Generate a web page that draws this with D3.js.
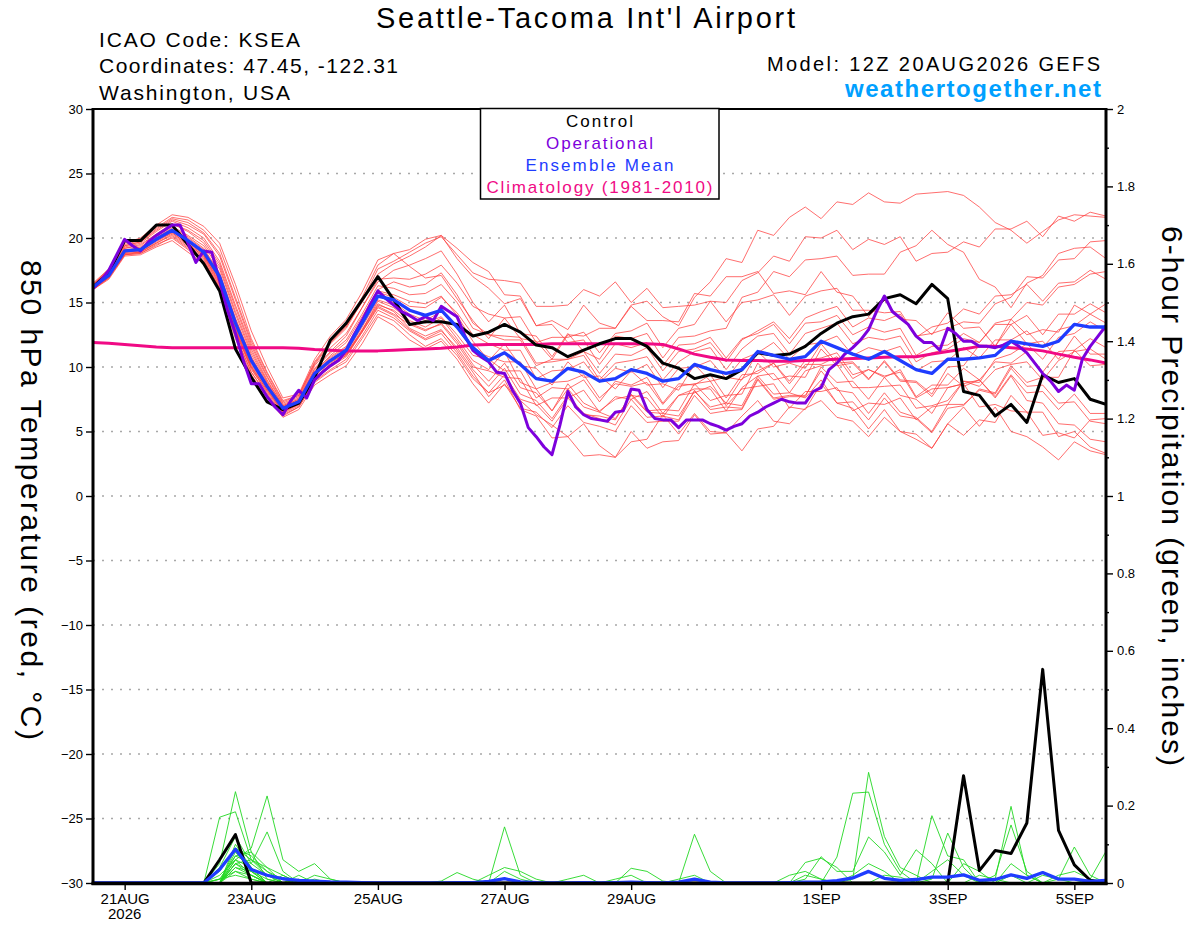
<!DOCTYPE html>
<html>
<head>
<meta charset="utf-8">
<title>KSEA GEFS plume</title>
<script src="https://cdn.jsdelivr.net/npm/d3@7"></script>
<style>
  html, body { margin: 0; padding: 0; background: #fff; }
  svg { display: block; font-family: "Liberation Sans", Arial, Helvetica, sans-serif; }
</style>
</head>
<body>
<svg id="plume-svg" width="1200" height="927"></svg>
<script>
// GEFS plume — Seattle-Tacoma Int'l Airport (KSEA), run 12Z 20AUG2026

// Time axis: 6-hourly members, 3-hourly operational run
const RUN_START = '2026-08-20T12:00:00Z';
const RUN_END = '2026-09-05T12:00:00Z';
const STEP_HOURS = 6;
const OP_STEP_HOURS = 3;

const dateTicks = ['2026-08-21', '2026-08-23', '2026-08-25', '2026-08-27', '2026-08-29', '2026-09-01', '2026-09-03', '2026-09-05'];
const dateLabels = ['21AUG', '23AUG', '25AUG', '27AUG', '29AUG', '1SEP', '3SEP', '5SEP'];
const yearLabel = '2026';

const tempTicks = [30, 25, 20, 15, 10, 5, 0, -5, -10, -15, -20, -25, -30];
const pcpTicks = [2, 1.8, 1.6, 1.4, 1.2, 1, 0.8, 0.6, 0.4, 0.2, 0];
const pcpMinorTicks = [1.9, 1.7, 1.5, 1.3, 1.1, 0.9, 0.7, 0.5, 0.3, 0.1];

// 850 hPa temperature (°C)
const controlTemp = [
  16.2, 17.3, 19.8, 19.8, 21.0,  21.0, 19.5, 18.0, 15.9, 11.4,  9.2, 7.3, 6.7, 7.2, 9.2,
  12.1, 13.4, 15.2, 17.0, 15.2,  13.3, 13.5, 13.5, 13.3, 12.4,  12.7, 13.3, 12.7, 11.7, 11.5,
  10.8, 11.3, 11.8, 12.2, 12.2,  11.6, 10.3, 9.9, 9.1, 9.4,  9.1, 9.8, 11.1, 10.9, 11.0,
  11.6, 12.6, 13.4, 13.9, 14.1,  15.3, 15.6, 14.9, 16.4, 15.3,  8.1, 7.8, 6.2, 7.1, 5.7,
  9.4, 8.8, 9.1, 7.5, 7.1
];

const ensMeanTemp = [
  16.2, 17.1, 19.0, 19.1, 19.9,  20.6, 19.8, 18.9, 17.0, 13.4,  10.5, 8.5, 6.8, 7.3, 9.5,
  10.5, 11.3, 13.4, 15.5, 15.2,  14.4, 14.0, 14.4, 13.1, 11.5,  10.5, 11.1, 10.2, 9.1, 8.9,
  9.9, 9.6, 8.9, 9.1, 9.8,  9.5, 8.9, 9.1, 10.2, 9.8,  9.5, 9.8, 11.2, 10.9, 10.6,
  10.8, 12.0, 11.5, 11.0, 10.6,  11.2, 10.5, 9.8, 9.5, 10.6,  10.6, 10.7, 10.9, 12.0, 11.8,
  11.6, 12.0, 13.3, 13.1, 13.1
];

const climTemp = [
  11.9, 11.85, 11.75, 11.65, 11.55,  11.5, 11.5, 11.5, 11.5, 11.5,  11.5, 11.5, 11.5, 11.45, 11.35,
  11.3, 11.25, 11.25, 11.25, 11.3,  11.35, 11.4, 11.45, 11.55, 11.7,  11.75, 11.75, 11.75, 11.75, 11.8,
  11.8, 11.8, 11.8, 11.8, 11.8,  11.8, 11.75, 11.4, 11.0, 10.75,  10.55, 10.5, 10.5, 10.45, 10.45,
  10.5, 10.55, 10.6, 10.65, 10.7,  10.75, 10.8, 10.8, 11.0, 11.2,  11.4, 11.6, 11.6, 11.5, 11.4,
  11.25, 11.0, 10.75, 10.55, 10.3
];

// Operational run, 3-hourly (129 values)
const operationalTemp = [
  16.1, 16.7, 17.5, 18.7, 19.9, 19.4, 19.0, 19.7, 20.2, 20.6,
  21.0, 21.0, 19.6, 18.1, 19.0, 18.9, 16.7, 14.4, 12.6, 10.5,
  8.7, 8.7, 7.7, 6.9, 6.3, 7.4, 8.2, 7.6, 9.0, 9.6,
  10.1, 10.5, 11.3, 12.5, 13.6, 14.8, 15.9, 15.3, 14.8, 14.3,
  14.0, 13.6, 13.9, 13.6, 14.7, 14.3, 13.9, 12.4, 11.3, 10.8,
  10.4, 9.6, 9.5, 8.2, 7.2, 5.3, 4.6, 3.8, 3.2, 5.5,
  8.1, 6.9, 6.3, 6.0, 5.9, 5.8, 6.5, 6.6, 8.3, 8.2,
  6.7, 6.0, 5.9, 5.9, 5.3, 5.9, 5.9, 5.9, 5.6, 5.4,
  5.1, 5.4, 5.6, 6.2, 6.5, 6.9, 7.2, 7.5, 7.3, 7.2,
  7.2, 8.1, 8.4, 9.8, 10.3, 11.0, 11.5, 12.1, 12.9, 14.3,
  15.5, 14.3, 13.8, 13.3, 12.4, 11.9, 11.9, 11.3, 13.0, 12.6,
  12.0, 12.0, 11.6, 11.6, 11.5, 11.7, 12.0, 11.6, 11.1, 10.3,
  9.5, 8.9, 8.1, 8.6, 8.2, 10.6, 11.6, 12.4, 13.2
];

// Ensemble members, 850 hPa temperature
const memberTemp = [
  [16.4, 17.6, 19.5, 19.8, 20.8,  21.6, 21.4, 20.6, 19.2, 15.9,  12.2, 9.6, 7.4, 7.8, 10.4,  12.0, 13.2, 15.0, 17.2, 18.0,  18.6, 19.3, 20.2, 18.4, 17.0,  16.1, 14.9, 15.3, 13.2, 13.6,  12.9, 14.8, 13.4, 13.0, 14.8,  15.1, 13.9, 13.2, 15.4, 16.6,  18.4, 18.1, 20.6, 20.2, 21.6,  22.4, 21.5, 22.8, 22.6, 23.5,  22.8, 22.7, 23.4, 23.5, 23.6,  23.3, 22.4, 21.2, 20.6, 19.6,  20.5, 21.4, 21.8, 21.7, 21.6],
  [16.0, 16.9, 18.7, 18.8, 19.4,  20.1, 19.2, 18.3, 16.1, 12.4,  9.6, 7.8, 6.2, 6.9, 8.8,  9.7, 10.4, 12.2, 14.1, 13.6,  12.5, 11.6, 12.2, 10.9, 9.1,  8.0, 8.6, 7.4, 6.3, 5.5,  4.6, 5.6, 3.9, 3.0, 4.2,  4.4, 6.3, 4.8, 6.4, 5.0,  4.9, 6.2, 7.4, 5.8, 5.6,  6.8, 7.4, 6.1, 5.8, 4.6,  6.1, 5.0, 4.4, 3.7, 5.6,  6.9, 5.4, 6.9, 5.0, 4.6,  3.8, 2.8, 4.2, 3.5, 3.2],
  [16.3, 17.2, 19.2, 19.4, 20.3,  21.1, 20.6, 19.8, 18.0, 14.6,  11.4, 9.0, 7.0, 7.5, 9.9,  11.2, 12.4, 14.6, 16.6, 17.5,  17.9, 18.4, 19.0, 17.2, 15.0,  13.5, 14.8, 12.6, 12.4, 10.8,  12.6, 11.2, 10.6, 12.4, 12.2,  12.6, 10.7, 12.3, 12.4, 12.8,  13.0, 15.4, 15.8, 17.4, 17.0,  18.3, 18.4, 18.6, 17.1, 17.2,  17.2, 18.9, 19.4, 20.6, 19.5,  18.9, 16.8, 16.2, 14.6, 16.5,  17.1, 18.8, 19.2, 19.3, 18.4],
  [16.1, 17.0, 18.9, 19.0, 19.8,  20.4, 19.5, 18.6, 16.6, 12.9,  10.0, 8.2, 6.6, 7.2, 9.3,  10.4, 11.0, 12.8, 15.1, 14.6,  13.6, 13.1, 13.8, 12.2, 10.5,  9.8, 11.2, 8.8, 8.3, 6.6,  8.7, 7.2, 6.6, 7.5, 7.8,  7.6, 6.1, 7.8, 8.3, 8.3,  6.6, 8.4, 9.3, 9.5, 8.0,  9.7, 10.1, 10.2, 8.4, 8.4,  8.5, 8.6, 6.8, 7.0, 7.4,  8.9, 8.5, 9.8, 10.2, 10.4,  9.0, 10.5, 11.2, 11.4, 10.6],
  [16.2, 17.3, 19.0, 19.3, 20.1,  20.9, 20.2, 19.4, 17.6, 14.1,  11.0, 8.8, 6.9, 7.4, 9.6,  10.9, 11.9, 13.9, 16.0, 16.6,  16.2, 16.4, 17.3, 15.6, 13.4,  12.5, 12.4, 12.3, 10.3, 10.4,  10.6, 10.9, 9.0, 10.3, 10.5,  10.8, 9.0, 10.4, 11.2, 11.5,  9.8, 11.4, 12.4, 12.6, 11.0,  12.6, 13.0, 13.4, 11.8, 12.3,  12.1, 12.4, 10.4, 11.1, 11.4,  12.2, 11.9, 13.4, 13.7, 15.0,  14.8, 16.2, 16.4, 17.2, 17.4],
  [16.2, 17.0, 18.8, 18.9, 19.6,  20.2, 19.3, 18.4, 16.3, 12.7,  9.9, 8.0, 6.4, 7.0, 9.0,  10.0, 10.8, 12.7, 14.6, 14.0,  12.9, 12.2, 12.8, 11.5, 9.8,  8.5, 9.9, 7.9, 7.4, 6.0,  7.8, 6.4, 6.0, 5.5, 7.5,  6.1, 6.2, 5.9, 8.2, 6.7,  6.9, 6.8, 9.1, 7.6, 7.8,  7.8, 9.7, 8.2, 8.0, 6.4,  8.0, 6.5, 6.1, 5.0, 7.1,  7.1, 8.2, 7.9, 9.9, 8.5,  8.6, 7.2, 7.3, 5.8, 5.6],
  [16.4, 17.5, 19.4, 19.7, 20.6,  21.4, 21.0, 20.3, 18.6, 15.2,  11.8, 9.3, 7.2, 7.7, 10.2,  11.8, 13.0, 15.1, 17.6, 18.2,  18.9, 19.6, 20.1, 18.7, 17.3,  16.8, 16.7, 16.5, 14.7, 14.7,  14.8, 16.0, 15.5, 16.6, 15.0,  16.1, 14.6, 14.7, 14.8, 15.1,  13.5, 15.0, 15.2, 15.6, 14.0,  15.5, 15.9, 16.1, 14.4, 14.4,  14.2, 14.3, 12.4, 12.6, 13.0,  13.5, 13.4, 14.9, 15.4, 17.0,  16.9, 18.3, 18.4, 19.7, 19.8],
  [16.0, 16.8, 18.6, 18.7, 19.3,  19.8, 18.9, 18.0, 15.9, 12.2,  9.4, 7.6, 6.1, 6.7, 8.6,  9.4, 10.1, 11.8, 13.9, 13.2,  12.1, 11.4, 12.0, 10.6, 8.7,  7.2, 8.7, 6.8, 6.5, 5.3,  7.0, 5.7, 5.4, 5.0, 7.0,  5.7, 5.8, 5.8, 7.8, 6.4,  6.6, 6.7, 9.0, 7.5, 7.7,  7.7, 10.0, 8.8, 8.9, 7.5,  9.2, 7.8, 7.5, 6.4, 8.4,  8.7, 9.0, 7.6, 9.3, 7.4,  7.2, 5.6, 5.5, 4.4, 4.2],
  [16.3, 17.2, 19.1, 19.2, 20.0,  20.7, 20.0, 19.1, 17.2, 13.7,  10.7, 8.6, 6.9, 7.4, 9.6,  10.7, 11.5, 13.6, 15.8, 15.4,  14.7, 14.6, 15.4, 14.2, 12.5,  11.8, 11.3, 11.3, 9.1, 9.7,  9.8, 10.4, 8.8, 9.9, 9.6,  10.2, 8.4, 9.9, 10.0, 10.5,  9.1, 10.6, 11.1, 11.9, 10.6,  11.7, 11.9, 12.4, 10.9, 11.5,  11.2, 11.6, 9.7, 10.4, 10.5,  11.5, 10.7, 12.1, 12.1, 12.8,  11.5, 12.9, 13.2, 14.1, 13.4],
  [16.1, 17.0, 18.9, 19.0, 19.8,  20.5, 19.6, 18.7, 16.8, 13.1,  10.2, 8.4, 6.7, 7.2, 9.4,  10.3, 11.1, 13.1, 15.2, 14.8,  13.9, 13.4, 13.9, 12.5, 10.9,  10.6, 9.7, 9.7, 7.6, 8.4,  8.3, 9.0, 7.3, 8.9, 8.6,  9.2, 7.2, 8.7, 8.6, 9.4,  7.6, 9.4, 9.5, 10.3, 8.7,  10.2, 10.2, 10.8, 9.1, 9.8,  9.2, 9.8, 7.7, 8.6, 8.6,  9.9, 9.0, 10.4, 10.3, 11.2,  9.6, 11.2, 11.3, 12.2, 11.5],
  [16.2, 17.1, 18.9, 19.1, 19.9,  20.6, 19.7, 18.7, 16.7, 13.0,  10.1, 8.3, 6.6, 7.1, 9.2,  10.2, 11.0, 12.9, 14.9, 14.3,  13.0, 12.4, 12.9, 11.3, 9.6,  7.7, 9.0, 6.7, 6.2, 4.5,  4.6, 3.1, 3.2, 3.0, 5.0,  3.7, 4.2, 4.3, 6.3, 4.8,  4.9, 3.5, 5.2, 5.4, 6.9,  6.7, 8.7, 7.2, 7.3, 5.9,  7.6, 6.2, 6.0, 4.9, 6.8,  7.0, 8.3, 8.0, 10.1, 8.8,  9.2, 9.2, 11.3, 10.1, 10.2],
  [16.5, 17.6, 19.6, 20.0, 21.0,  21.8, 21.6, 20.9, 19.6, 16.4,  12.8, 10.0, 7.6, 7.9, 10.6,  12.4, 13.7, 15.8, 18.3, 18.8,  19.1, 19.9, 20.2, 19.2, 18.1,  17.4, 15.6, 15.5, 13.2, 13.3,  11.9, 12.1, 10.2, 11.8, 11.5,  11.9, 10.1, 11.7, 11.8, 12.3,  10.7, 12.2, 12.6, 13.3, 11.8,  13.4, 13.5, 14.0, 12.5, 13.1,  12.7, 13.0, 10.9, 11.6, 11.7,  12.6, 11.9, 13.3, 13.3, 14.0,  12.5, 14.1, 14.1, 14.9, 14.2],
  [16.2, 17.2, 19.0, 19.2, 20.0,  20.8, 20.1, 19.2, 17.3, 13.8,  10.8, 8.7, 6.9, 7.4, 9.7,  10.8, 11.6, 13.7, 15.9, 15.6,  15.1, 14.9, 15.5, 14.0, 12.0,  10.5, 11.8, 10.1, 9.9, 8.6,  10.4, 9.2, 9.3, 8.3, 9.7,  8.6, 8.7, 8.2, 10.2, 8.9,  9.2, 9.0, 11.2, 10.0, 10.3,  9.9, 11.8, 10.3, 10.4, 9.1,  10.4, 8.9, 8.8, 7.7, 9.5,  8.5, 9.0, 7.7, 9.4, 8.0,  8.1, 6.7, 7.9, 6.4, 6.4],
  [16.3, 17.4, 19.3, 19.6, 20.5,  21.3, 20.8, 20.0, 18.2, 14.8,  11.6, 9.2, 7.1, 7.6, 10.1,  11.5, 12.6, 14.6, 16.8, 16.9,  16.8, 17.2, 17.9, 16.5, 14.7,  14.1, 13.8, 13.9, 11.9, 12.3,  12.3, 12.7, 11.1, 12.6, 12.8,  13.4, 11.5, 13.0, 13.3, 15.1,  15.0, 16.7, 17.3, 18.6, 18.2,  20.1, 20.0, 20.6, 19.1, 19.9,  19.5, 20.1, 18.2, 18.8, 18.9,  19.7, 19.3, 20.7, 20.7, 21.3,  20.1, 21.7, 21.3, 22.0, 21.7],
  [16.1, 16.9, 18.7, 18.9, 19.6,  20.3, 19.4, 18.5, 16.4, 12.8,  9.8, 8.1, 6.5, 7.1, 9.1,  10.1, 10.9, 12.7, 14.7, 14.1,  13.3, 12.8, 13.4, 12.0, 10.2,  8.9, 10.3, 8.4, 8.0, 6.6,  8.3, 6.9, 6.5, 6.0, 7.8,  6.5, 6.4, 6.2, 8.1, 6.9,  7.2, 7.0, 9.3, 7.9, 8.0,  7.6, 9.0, 7.2, 6.8, 5.2,  6.7, 5.0, 4.8, 3.7, 5.6,  4.7, 5.9, 5.7, 7.8, 6.5,  6.5, 4.6, 5.0, 3.8, 3.3],
  [16.3, 17.3, 19.2, 19.5, 20.3,  21.1, 20.5, 19.6, 17.8, 14.3,  11.2, 8.9, 7.0, 7.5, 9.8,  11.1, 12.1, 14.1, 16.3, 16.1,  15.6, 15.7, 16.4, 15.0, 13.0,  12.5, 12.1, 12.1, 10.1, 10.6,  10.6, 11.2, 9.5, 11.0, 10.9,  11.5, 9.7, 11.2, 11.4, 11.9,  10.4, 12.1, 12.8, 13.5, 12.2,  13.8, 14.3, 14.7, 13.1, 13.8,  13.6, 14.1, 12.3, 13.1, 13.4,  14.5, 14.1, 15.5, 15.6, 16.4,  15.1, 16.5, 16.6, 17.5, 16.8],
  [16.0, 16.9, 18.7, 18.8, 19.5,  20.0, 19.1, 18.2, 16.2, 12.5,  9.6, 7.9, 6.3, 6.9, 8.9,  9.8, 10.6, 12.4, 14.4, 13.8,  12.8, 12.1, 12.6, 11.1, 9.3,  8.0, 9.4, 7.5, 7.1, 5.8,  7.6, 6.3, 6.2, 5.9, 7.9,  6.6, 6.7, 6.6, 8.7, 7.4,  7.8, 7.9, 10.3, 9.0, 9.3,  9.2, 11.4, 10.1, 10.3, 9.0,  10.5, 9.0, 8.9, 7.9, 10.0,  10.1, 11.7, 11.6, 13.7, 12.5,  12.9, 12.7, 14.8, 14.1, 14.9],
  [16.2, 17.1, 19.0, 19.1, 19.9,  20.6, 19.8, 18.9, 17.0, 13.5,  10.5, 8.5, 6.8, 7.3, 9.5,  10.6, 11.3, 13.3, 15.5, 15.0,  14.1, 13.6, 14.3, 13.0, 11.3,  10.8, 10.4, 10.4, 8.3, 8.8,  8.9, 9.4, 7.6, 8.7, 8.5,  8.8, 7.1, 8.5, 8.7, 8.9,  7.0, 8.3, 8.5, 8.7, 6.8,  8.1, 8.1, 8.4, 6.6, 7.2,  7.1, 7.6, 5.9, 6.9, 7.1,  8.9, 8.8, 10.6, 11.0, 11.8,  10.6, 12.3, 12.6, 13.5, 12.8],
  [16.4, 17.5, 19.4, 19.7, 20.7,  21.5, 21.2, 20.4, 18.8, 15.4,  12.0, 9.5, 7.3, 7.8, 10.3,  11.9, 13.1, 15.4, 17.9, 18.8,  17.8, 16.9, 17.1, 15.3, 13.6,  12.2, 13.8, 12.2, 12.0, 10.6,  12.5, 12.4, 13.0, 13.0, 14.7,  13.6, 13.6, 13.5, 15.7, 15.5,  17.0, 17.0, 17.4, 15.7, 15.9,  15.6, 17.4, 15.8, 15.5, 13.9,  15.2, 13.7, 13.6, 12.5, 14.2,  13.0, 13.1, 11.6, 13.3, 11.8,  12.0, 10.6, 12.4, 11.0, 11.0],
  [16.1, 17.0, 18.8, 18.9, 19.7,  20.4, 19.5, 18.6, 16.5, 12.9,  10.0, 8.2, 6.5, 7.1, 9.2,  10.2, 10.9, 12.8, 14.8, 14.4,  13.4, 12.9, 13.3, 11.8, 10.0,  9.7, 9.2, 9.1, 7.0, 7.6,  7.6, 8.2, 6.5, 7.7, 7.5,  8.1, 6.4, 7.8, 8.0, 8.5,  7.2, 9.1, 9.7, 10.3, 8.9,  10.5, 10.7, 11.1, 9.4, 9.8,  9.3, 9.6, 7.6, 8.3, 8.4,  8.7, 6.9, 7.1, 6.6, 6.5,  4.7, 4.9, 4.5, 5.9, 6.0]
];

// 6-hour precipitation (inches)
const controlPcp = [
  0, 0, 0, 0, 0,  0, 0, 0, 0.06, 0.125,  0, 0, 0, 0, 0,  0, 0, 0, 0, 0,
  0, 0, 0, 0, 0,  0, 0, 0, 0, 0,  0, 0, 0, 0, 0,  0, 0, 0, 0, 0,
  0, 0, 0, 0, 0,  0, 0, 0, 0, 0,  0, 0, 0, 0, 0,  0.277, 0.032, 0.084, 0.076, 0.155,
  0.552, 0.136, 0.047, 0.007, 0
];

const ensMeanPcp = [
  0, 0, 0, 0, 0,  0, 0, 0, 0.035, 0.087,  0.035, 0.02, 0.011, 0.007, 0.005,  0.003, 0.002, 0.001, 0, 0,
  0, 0, 0, 0.001, 0.001,  0.004, 0.011, 0.003, 0.001, 0,  0, 0.001, 0, 0.001, 0.002,  0.001, 0, 0.002, 0.01, 0.002,
  0, 0, 0, 0, 0.001,  0.002, 0.003, 0.006, 0.013, 0.03,  0.012, 0.007, 0.009, 0.015, 0.015,  0.021, 0.007, 0.009, 0.021, 0.012,
  0.027, 0.01, 0.01, 0.004, 0.007
];

const memberPcp = [
  [0, 0, 0, 0, 0,  0, 0, 0, 0.17, 0.184,  0.06, 0.02, 0, 0, 0.01,  0, 0, 0, 0, 0,  0, 0, 0, 0, 0,  0, 0, 0, 0, 0,  0, 0, 0, 0, 0,  0, 0, 0, 0, 0,  0, 0, 0, 0, 0,  0, 0, 0.067, 0.232, 0.235,  0.1, 0.03, 0, 0, 0,  0, 0, 0, 0.02, 0,  0, 0, 0, 0, 0],
  [0, 0, 0, 0, 0,  0, 0, 0, 0.05, 0.236,  0.08, 0.01, 0, 0, 0,  0, 0, 0, 0, 0,  0, 0, 0, 0, 0,  0, 0.145, 0.02, 0, 0,  0, 0, 0, 0, 0,  0, 0, 0, 0, 0,  0, 0, 0, 0, 0,  0, 0, 0, 0, 0,  0, 0, 0, 0, 0,  0, 0, 0, 0, 0,  0, 0, 0, 0, 0],
  [0, 0, 0, 0, 0,  0, 0, 0, 0, 0.06,  0.09, 0.225, 0.06, 0.03, 0.05,  0.01, 0, 0, 0, 0,  0, 0, 0, 0, 0,  0, 0, 0, 0, 0,  0, 0, 0, 0, 0,  0, 0, 0, 0, 0,  0, 0, 0, 0, 0,  0, 0, 0, 0, 0,  0, 0, 0, 0, 0,  0, 0, 0, 0, 0,  0, 0, 0, 0, 0],
  [0, 0, 0, 0, 0,  0, 0, 0, 0.04, 0.12,  0.05, 0.132, 0.03, 0, 0,  0, 0, 0, 0, 0,  0, 0, 0, 0, 0,  0, 0, 0, 0, 0,  0, 0, 0, 0, 0,  0, 0, 0, 0.126, 0.03,  0, 0, 0, 0, 0,  0, 0, 0, 0, 0,  0, 0, 0, 0.174, 0.07,  0.06, 0, 0, 0, 0,  0, 0, 0, 0, 0],
  [0, 0, 0, 0, 0,  0, 0, 0, 0, 0.1,  0.04, 0, 0.02, 0, 0,  0, 0, 0, 0, 0,  0, 0, 0, 0, 0,  0, 0, 0, 0, 0,  0, 0, 0, 0, 0,  0, 0, 0, 0, 0,  0, 0, 0, 0, 0,  0, 0, 0, 0.01, 0.286,  0.12, 0.04, 0.02, 0, 0,  0, 0, 0.01, 0.198, 0.02,  0, 0, 0, 0, 0],
  [0, 0, 0, 0, 0,  0, 0, 0, 0.03, 0.09,  0.07, 0.03, 0, 0.02, 0,  0, 0, 0, 0, 0,  0, 0, 0, 0, 0,  0, 0, 0, 0, 0,  0, 0, 0, 0, 0.038,  0.03, 0.005, 0, 0, 0,  0, 0, 0, 0, 0,  0.053, 0.064, 0.04, 0, 0,  0, 0, 0, 0, 0,  0, 0, 0, 0, 0,  0, 0, 0, 0, 0],
  [0, 0, 0, 0, 0,  0, 0, 0, 0, 0.08,  0.03, 0, 0, 0, 0,  0, 0, 0, 0, 0,  0, 0, 0, 0, 0,  0, 0, 0, 0, 0,  0, 0, 0, 0, 0,  0, 0, 0, 0, 0,  0, 0, 0, 0, 0,  0, 0, 0, 0, 0,  0, 0, 0, 0.01, 0.129,  0.04, 0, 0.02, 0.15, 0.03,  0, 0, 0, 0, 0],
  [0, 0, 0, 0, 0,  0, 0, 0, 0, 0.07,  0.05, 0.02, 0, 0, 0,  0, 0, 0, 0, 0,  0, 0, 0, 0, 0,  0.02, 0.04, 0.03, 0.01, 0,  0, 0, 0, 0, 0,  0, 0, 0, 0, 0,  0, 0, 0, 0, 0,  0, 0, 0, 0, 0,  0, 0, 0, 0, 0,  0, 0, 0, 0, 0,  0, 0.01, 0.093, 0.02, 0],
  [0, 0, 0, 0, 0,  0, 0, 0, 0.02, 0.06,  0.02, 0, 0, 0, 0,  0, 0, 0, 0, 0,  0, 0, 0, 0, 0,  0, 0, 0, 0, 0,  0, 0, 0, 0, 0,  0, 0, 0, 0, 0,  0, 0, 0, 0, 0,  0.01, 0.068, 0.03, 0.03, 0.119,  0.08, 0.02, 0.086, 0.05, 0,  0, 0, 0, 0, 0,  0, 0, 0, 0, 0],
  [0, 0, 0, 0, 0,  0, 0, 0, 0, 0.05,  0.03, 0.01, 0, 0, 0,  0, 0, 0, 0, 0,  0, 0, 0.005, 0.027, 0.01,  0, 0, 0, 0, 0,  0, 0, 0, 0, 0,  0, 0, 0, 0, 0,  0, 0, 0, 0, 0,  0, 0, 0, 0, 0,  0, 0, 0, 0, 0,  0, 0.02, 0.01, 0, 0,  0, 0, 0, 0.01, 0.082],
  [0, 0, 0, 0, 0,  0, 0, 0, 0, 0.05,  0.06, 0.04, 0.02, 0, 0,  0, 0, 0, 0, 0,  0, 0, 0, 0, 0,  0, 0.03, 0.01, 0, 0,  0, 0, 0, 0, 0,  0, 0, 0, 0, 0,  0, 0, 0, 0, 0,  0, 0, 0, 0, 0,  0, 0, 0, 0, 0,  0, 0, 0, 0, 0,  0, 0, 0, 0, 0],
  [0, 0, 0, 0, 0,  0, 0, 0, 0, 0.04,  0.03, 0, 0, 0, 0,  0, 0, 0, 0, 0,  0, 0, 0, 0, 0,  0, 0, 0, 0, 0,  0, 0, 0, 0, 0,  0, 0, 0, 0, 0,  0, 0, 0, 0, 0,  0, 0, 0, 0, 0,  0, 0, 0, 0, 0,  0.05, 0.03, 0, 0, 0,  0.02, 0.01, 0, 0, 0],
  [0, 0, 0, 0, 0,  0, 0, 0, 0, 0.04,  0.02, 0, 0, 0, 0.02,  0.01, 0, 0, 0, 0,  0, 0, 0, 0, 0,  0, 0, 0, 0, 0,  0, 0, 0, 0, 0,  0, 0, 0, 0, 0,  0, 0, 0, 0, 0,  0, 0, 0, 0.02, 0.05,  0.03, 0, 0, 0, 0,  0, 0, 0, 0, 0,  0, 0, 0, 0, 0],
  [0, 0, 0, 0, 0,  0, 0, 0, 0.01, 0.03,  0.02, 0, 0, 0, 0,  0, 0, 0, 0, 0,  0, 0, 0, 0, 0,  0, 0, 0, 0, 0,  0, 0, 0, 0, 0,  0, 0, 0, 0, 0,  0, 0, 0, 0, 0,  0, 0, 0, 0, 0,  0, 0, 0, 0.03, 0.06,  0.02, 0, 0, 0, 0,  0, 0, 0, 0, 0],
  [0, 0, 0, 0, 0,  0, 0, 0, 0, 0.03,  0.01, 0, 0, 0, 0,  0, 0, 0, 0, 0,  0, 0, 0, 0, 0,  0, 0, 0, 0, 0,  0, 0, 0, 0.01, 0.02,  0, 0, 0, 0, 0,  0, 0, 0, 0, 0,  0, 0, 0, 0, 0,  0, 0, 0, 0, 0,  0, 0, 0, 0.05, 0.02,  0, 0, 0, 0, 0],
  [0, 0, 0, 0, 0,  0, 0, 0, 0, 0.09,  0.06, 0.03, 0.01, 0, 0,  0, 0, 0, 0, 0,  0, 0, 0, 0, 0,  0, 0, 0, 0, 0,  0, 0, 0, 0, 0,  0, 0, 0, 0, 0,  0, 0, 0, 0, 0,  0, 0, 0, 0, 0,  0, 0, 0, 0, 0,  0, 0, 0, 0, 0,  0, 0, 0, 0, 0],
  [0, 0, 0, 0, 0,  0, 0, 0, 0.01, 0.07,  0.08, 0.04, 0, 0, 0,  0, 0, 0, 0, 0,  0, 0, 0, 0, 0,  0, 0, 0, 0, 0,  0, 0, 0, 0, 0,  0, 0, 0.01, 0.02, 0,  0, 0, 0, 0, 0,  0, 0, 0, 0, 0,  0, 0, 0, 0, 0,  0, 0, 0, 0, 0,  0, 0, 0, 0, 0],
  [0, 0, 0, 0, 0,  0, 0, 0, 0, 0.06,  0.04, 0, 0, 0.01, 0,  0, 0, 0, 0, 0,  0, 0, 0, 0, 0,  0, 0, 0, 0, 0,  0, 0, 0, 0, 0,  0, 0, 0, 0, 0,  0, 0, 0, 0, 0,  0, 0, 0, 0, 0,  0, 0, 0, 0, 0,  0, 0, 0, 0, 0,  0, 0.02, 0.03, 0.01, 0],
  [0, 0, 0, 0, 0,  0, 0, 0, 0.01, 0.02,  0.01, 0, 0, 0, 0,  0, 0, 0, 0, 0,  0, 0, 0, 0, 0,  0, 0, 0, 0, 0,  0, 0, 0, 0, 0,  0, 0, 0, 0, 0,  0, 0, 0, 0, 0,  0.02, 0.01, 0, 0, 0,  0.02, 0.015, 0, 0, 0,  0, 0, 0, 0, 0,  0, 0, 0, 0, 0],
  [0, 0, 0, 0, 0,  0, 0, 0, 0, 0.05,  0.02, 0, 0, 0, 0,  0, 0, 0, 0, 0,  0, 0, 0, 0, 0,  0, 0, 0, 0, 0,  0.01, 0.02, 0, 0, 0,  0, 0, 0, 0, 0,  0, 0, 0, 0, 0.02,  0.03, 0.01, 0, 0, 0,  0, 0, 0, 0, 0,  0, 0, 0, 0, 0,  0, 0, 0, 0, 0]
];

(function () {
    const WIDTH = 1200;
    const HEIGHT = 927;
    const PLOT = { left: 93, right: 1106, top: 109, bottom: 883 };

    const COLORS = {
        member: '#ff4040',
        memberPcp: '#22d822',
        control: '#000000',
        operational: '#7d00dc',
        mean: '#1f3cff',
        clim: '#f00a85',
        grid: '#a8a8a8',
        link: '#00a0ff'
    };

    const svg = d3.select('#plume-svg')
        .attr('viewBox', `0 0 ${WIDTH} ${HEIGHT}`);

    // Valid times of each point
    const start = new Date(RUN_START);
    const times = controlTemp.map((_, i) => d3.utcHour.offset(start, i * STEP_HOURS));
    const opTimes = operationalTemp.map((_, i) => d3.utcHour.offset(start, i * OP_STEP_HOURS));

    const x = d3.scaleUtc()
        .domain([start, new Date(RUN_END)])
        .range([PLOT.left, PLOT.right]);

    const yTemp = d3.scaleLinear().domain([-30, 30]).range([PLOT.bottom, PLOT.top]);
    const yPcp = d3.scaleLinear().domain([0, 2]).range([PLOT.bottom, PLOT.top]);

    const tempLine = d3.line().x((d, i) => x(times[i])).y(d => yTemp(d));
    const opLine = d3.line().x((d, i) => x(opTimes[i])).y(d => yTemp(d));
    const pcpLine = d3.line().x((d, i) => x(times[i])).y(d => yPcp(d));

    svg.append('defs').append('clipPath')
        .attr('id', 'plot-clip')
        .append('rect')
        .attr('x', PLOT.left)
        .attr('y', PLOT.top)
        .attr('width', PLOT.right - PLOT.left)
        .attr('height', PLOT.bottom - PLOT.top + 3);

    // Dotted grid on the temperature ticks
    svg.append('g')
        .selectAll('line')
        .data(tempTicks.filter(t => t > -30 && t < 30))
        .join('line')
        .attr('x1', PLOT.left)
        .attr('x2', PLOT.right)
        .attr('y1', d => yTemp(d))
        .attr('y2', d => yTemp(d))
        .attr('stroke', COLORS.grid)
        .attr('stroke-width', 1.3)
        .attr('stroke-dasharray', '2,7');

    const lines = svg.append('g').attr('clip-path', 'url(#plot-clip)');

    // Members: red temperature, green precipitation
    lines.append('g')
        .selectAll('path')
        .data(memberTemp)
        .join('path')
        .attr('d', tempLine)
        .attr('fill', 'none')
        .attr('stroke', COLORS.member)
        .attr('stroke-opacity', 0.85)
        .attr('stroke-width', 0.9);

    lines.append('g')
        .selectAll('path')
        .data(memberPcp)
        .join('path')
        .attr('d', pcpLine)
        .attr('fill', 'none')
        .attr('stroke', COLORS.memberPcp)
        .attr('stroke-width', 0.9);

    const thick = (path, d, color, w) => lines.append('path')
        .datum(d)
        .attr('d', path)
        .attr('fill', 'none')
        .attr('stroke', color)
        .attr('stroke-width', w)
        .attr('stroke-linejoin', 'round');

    thick(tempLine, climTemp, COLORS.clim, 3);
    thick(tempLine, controlTemp, COLORS.control, 3);
    thick(pcpLine, controlPcp, COLORS.control, 3);
    thick(opLine, operationalTemp, COLORS.operational, 3);
    thick(tempLine, ensMeanTemp, COLORS.mean, 3.3);
    thick(pcpLine, ensMeanPcp, COLORS.mean, 3.3);

    // Axes
    const styleAxis = g => g
        .call(g => g.select('.domain').remove())
        .call(g => g.selectAll('line').attr('stroke', '#000').attr('stroke-width', 1.4))
        .call(g => g.selectAll('text')
            .attr('fill', '#000')
            .attr('font-family', '"Liberation Sans", Arial, sans-serif'));

    svg.append('g')
        .attr('transform', `translate(${PLOT.left}, 0)`)
        .call(d3.axisLeft(yTemp).tickValues(tempTicks).tickSize(7).tickPadding(3))
        .call(styleAxis)
        .call(g => g.selectAll('text').attr('font-size', '13px'));

    const pcpFormat = d => (d === 0 || d === 1 || d === 2) ? String(d) : d3.format('.1f')(d);

    svg.append('g')
        .attr('transform', `translate(${PLOT.right}, 0)`)
        .call(d3.axisRight(yPcp).tickValues(pcpTicks).tickSize(7).tickPadding(4).tickFormat(pcpFormat))
        .call(styleAxis)
        .call(g => g.selectAll('text').attr('font-size', '13px'));

    svg.append('g')
        .attr('transform', `translate(${PLOT.right}, 0)`)
        .call(d3.axisRight(yPcp).tickValues(pcpMinorTicks).tickSize(3).tickFormat(''))
        .call(styleAxis);

    const tickDates = dateTicks.map(d => new Date(d + 'T00:00:00Z'));

    svg.append('g')
        .attr('transform', `translate(0, ${PLOT.bottom})`)
        .call(d3.axisBottom(x).tickValues(tickDates).tickSize(7).tickPadding(3)
            .tickFormat((d, i) => dateLabels[i]))
        .call(styleAxis)
        .call(g => g.selectAll('text').attr('font-size', '15px'));

    svg.append('text')
        .attr('x', x(tickDates[0]))
        .attr('y', 919)
        .attr('text-anchor', 'middle')
        .attr('font-size', '15px')
        .text(yearLabel);

    // Plot frame, drawn over the lines
    const frame = svg.append('g').attr('stroke', '#000').attr('fill', 'none');
    frame.append('line')
        .attr('x1', PLOT.left).attr('x2', PLOT.right)
        .attr('y1', PLOT.top).attr('y2', PLOT.top)
        .attr('stroke-width', 2);
    frame.append('line')
        .attr('x1', PLOT.left - 1.5).attr('x2', PLOT.right + 1.5)
        .attr('y1', PLOT.bottom + 0.5).attr('y2', PLOT.bottom + 0.5)
        .attr('stroke-width', 3.5);
    frame.append('line')
        .attr('x1', PLOT.left).attr('x2', PLOT.left)
        .attr('y1', PLOT.top - 1).attr('y2', PLOT.bottom + 2)
        .attr('stroke-width', 3);
    frame.append('line')
        .attr('x1', PLOT.right).attr('x2', PLOT.right)
        .attr('y1', PLOT.top - 1).attr('y2', PLOT.bottom + 2)
        .attr('stroke-width', 3);

    // Legend box
    const legend = svg.append('g');
    legend.append('rect')
        .attr('x', 480.5)
        .attr('y', PLOT.top - 0.5)
        .attr('width', 238.5)
        .attr('height', 90.5)
        .attr('fill', '#fff')
        .attr('stroke', '#000')
        .attr('stroke-width', 1.5);

    const legendItems = [
        { label: 'Control', color: COLORS.control, width: 67 },
        { label: 'Operational', color: COLORS.operational, width: 107 },
        { label: 'Ensemble Mean', color: COLORS.mean, width: 148 },
        { label: 'Climatology (1981-2010)', color: COLORS.clim, width: 226 }
    ];

    legend.selectAll('text')
        .data(legendItems)
        .join('text')
        .attr('x', 599.5)
        .attr('y', (d, i) => 127 + i * 22)
        .attr('text-anchor', 'middle')
        .attr('font-size', '17px')
        .attr('fill', d => d.color)
        .attr('textLength', d => d.width)
        .attr('lengthAdjust', 'spacing')
        .text(d => d.label);

    // Header texts
    const header = (txt, xPos, yPos, size, anchor, len, extra) => {
        const t = svg.append('text')
            .attr('x', xPos)
            .attr('y', yPos)
            .attr('font-size', size + 'px')
            .attr('text-anchor', anchor)
            .attr('textLength', len)
            .attr('lengthAdjust', 'spacing')
            .text(txt);
        if (extra) extra(t);
        return t;
    };

    header("Seattle-Tacoma Int'l Airport", 585.5, 28, 29, 'middle', 419);
    header('ICAO Code: KSEA', 99, 47, 21, 'start', 201);
    header('Coordinates: 47.45, -122.31', 99, 73, 21, 'start', 299);
    header('Washington, USA', 99, 99.5, 21, 'start', 191);
    header('Model: 12Z 20AUG2026 GEFS', 1100, 71, 20, 'end', 333);
    header('weathertogether.net', 1101, 97, 24, 'end', 256,
        t => t.attr('font-weight', 'bold').attr('fill', COLORS.link));

    // Axis titles, rotated clockwise
    svg.append('text')
        .attr('transform', 'translate(21, 500) rotate(90)')
        .attr('text-anchor', 'middle')
        .attr('font-size', '30px')
        .attr('textLength', 480)
        .attr('lengthAdjust', 'spacing')
        .text('850 hPa Temperature (red, \u00B0C)');

    svg.append('text')
        .attr('transform', 'translate(1162, 496) rotate(90)')
        .attr('text-anchor', 'middle')
        .attr('font-size', '30px')
        .attr('textLength', 540)
        .attr('lengthAdjust', 'spacing')
        .text('6-hour Precipitation (green, inches)');
})();
</script>
</body>
</html>
